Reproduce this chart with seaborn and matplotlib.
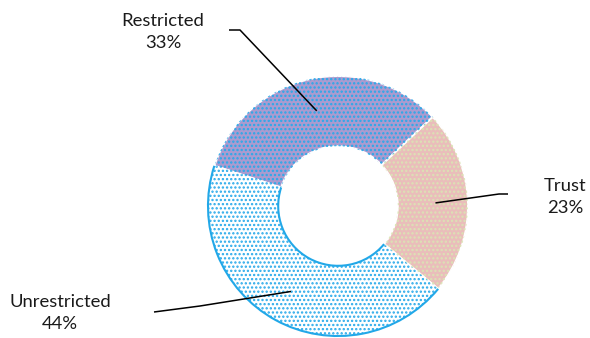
import numpy as np
import matplotlib
matplotlib.use("Agg")
import matplotlib.pyplot as plt
from matplotlib.patches import Arc
import seaborn as sns

# Portfolio split by fund type
categories = ["Restricted", "Trust", "Unrestricted"]
shares = [33, 23, 44]
pct_labels = ["33%", "23%", "44%"]

sns.set_theme(style="white")
plt.rcParams["font.family"] = ["Lato", "DejaVu Sans"]
plt.rcParams["hatch.linewidth"] = 1.1

base_colors = ["#ab9bcf", "#eabdbb", "#ffffff"]
dot_colors = ["#27a9ea", "#dbe3b4", "#27a9ea"]
rim_colors = [None, None, "#22a8e8"]

W, H = 590, 338
CX, CY, R = 338, 206, 130  # ring centre / radius in pixels
RING_W = 0.54

fig = plt.figure(figsize=(W / 100, H / 100), dpi=100)
ax = fig.add_axes([0, 0, 1, 1])


def to_data(px, py):
    return (px - CX) / R, (CY - py) / R


wedges, _ = ax.pie(shares, radius=1.0, startangle=162, counterclock=False,
                   colors=base_colors,
                   wedgeprops=dict(width=RING_W, linewidth=1.4, edgecolor="white"))

dots, _ = ax.pie(shares, radius=1.0, startangle=162, counterclock=False,
                 wedgeprops=dict(width=RING_W, linewidth=0))
for d, dc in zip(dots, dot_colors):
    d.set_facecolor("none")
    d.set_edgecolor(dc)
    d.set_hatch("....")
    d.set_linewidth(0)

# coloured rim along the outer and inner arcs of a slice
for w, rc in zip(wedges, rim_colors):
    if rc is None:
        continue
    for rad in (1.0, 1.0 - RING_W):
        ax.add_patch(Arc((0, 0), 2 * rad, 2 * rad, theta1=w.theta1, theta2=w.theta2,
                         color=rc, lw=1.5))

ax.set_xlim(-CX / R, (W - CX) / R)
ax.set_ylim(-(H - CY) / R, CY / R)
ax.set_aspect("equal")
ax.axis("off")

# label text positions and leader-line elbows (pixels)
text_pos = [(163, 32), (565, 197), (60, 313)]
elbows = [[(229, 30), (240, 30)], [(508, 194), (499, 194)], [(154, 312), (200, 306)]]

for w, name, pct, tp, elb in zip(wedges, categories, pct_labels, text_pos, elbows):
    mid = np.deg2rad((w.theta1 + w.theta2) / 2)
    inner = (0.75 * np.cos(mid), 0.75 * np.sin(mid))
    pts = [to_data(*p) for p in elb] + [inner]
    xs, ys = zip(*pts)
    ax.plot(xs, ys, color="black", lw=1.1, solid_capstyle="butt")
    tx, ty = to_data(*tp)
    ax.text(tx, ty, f"{name}\n{pct}", ha="center", va="center",
            fontsize=13.3, color="#1a1a1a", linespacing=1.5)

fig.savefig("out.png", dpi=100)
